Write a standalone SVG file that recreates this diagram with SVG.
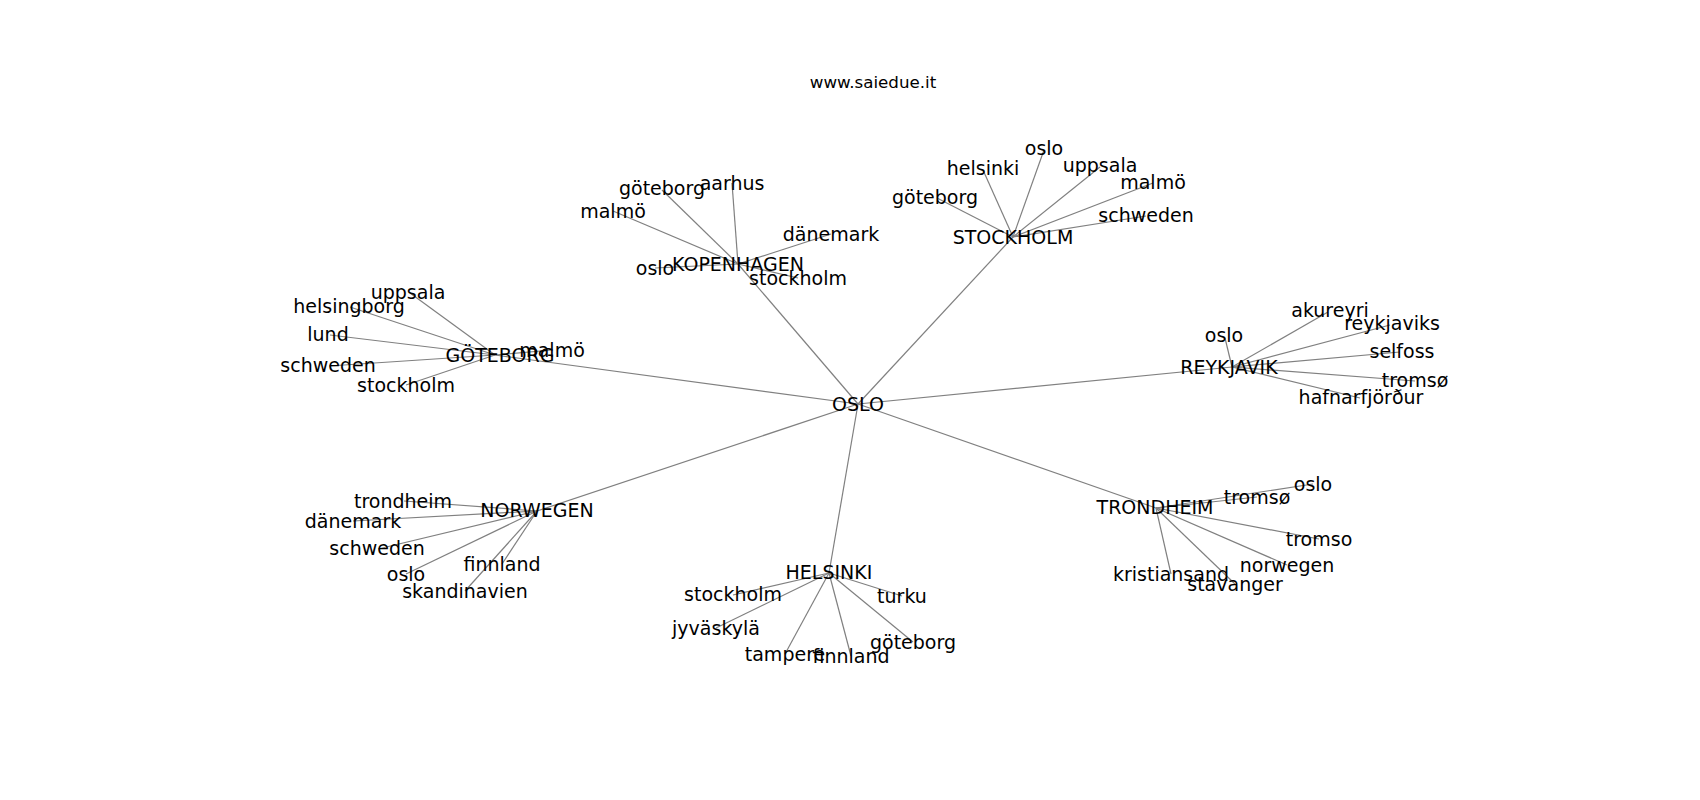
<svg xmlns="http://www.w3.org/2000/svg" width="1700" height="800" viewBox="0 0 1700 800">
<style>
  .e { stroke: #808080; stroke-width: 1.2; fill: none; }
  .n text { font-family: "DejaVu Sans", sans-serif; font-size: 19px; fill: #000; text-anchor: middle; }
  .t { font-family: "DejaVu Sans", sans-serif; font-size: 16.7px; fill: #000; text-anchor: middle; }
</style>
<rect width="1700" height="800" fill="#fff"/>
<text class="t" x="873" y="82" dy="0.35em">www.saiedue.it</text>
<g id="edges">
  <!-- OSLO hubs -->
  <line class="e" x1="858" y1="404" x2="738" y2="264"/>
  <line class="e" x1="858" y1="404" x2="1013" y2="237"/>
  <line class="e" x1="858" y1="404" x2="495" y2="355"/>
  <line class="e" x1="858" y1="404" x2="1232" y2="367"/>
  <line class="e" x1="858" y1="404" x2="537" y2="511"/>
  <line class="e" x1="858" y1="404" x2="829" y2="573"/>
  <line class="e" x1="858" y1="404" x2="1156" y2="508"/>
  <!-- KOPENHAGEN -->
  <line class="e" x1="738" y1="264" x2="662" y2="190"/>
  <line class="e" x1="738" y1="264" x2="732" y2="183"/>
  <line class="e" x1="738" y1="264" x2="613" y2="211"/>
  <line class="e" x1="738" y1="264" x2="831" y2="234"/>
  <line class="e" x1="738" y1="264" x2="655" y2="268"/>
  <line class="e" x1="738" y1="264" x2="798" y2="278"/>
  <!-- STOCKHOLM -->
  <line class="e" x1="1013" y1="237" x2="1044" y2="150"/>
  <line class="e" x1="1013" y1="237" x2="983" y2="170"/>
  <line class="e" x1="1013" y1="237" x2="1100" y2="167"/>
  <line class="e" x1="1013" y1="237" x2="1153" y2="183"/>
  <line class="e" x1="1013" y1="237" x2="937" y2="198"/>
  <line class="e" x1="1013" y1="237" x2="1146" y2="216"/>
  <!-- GÖTEBORG -->
  <line class="e" x1="495" y1="355" x2="410" y2="293"/>
  <line class="e" x1="495" y1="355" x2="350" y2="307"/>
  <line class="e" x1="495" y1="355" x2="330" y2="335"/>
  <line class="e" x1="495" y1="355" x2="329" y2="366"/>
  <line class="e" x1="495" y1="355" x2="406" y2="385"/>
  <line class="e" x1="495" y1="355" x2="552" y2="350"/>
  <!-- REYKJAVIK -->
  <line class="e" x1="1232" y1="367" x2="1328" y2="312"/>
  <line class="e" x1="1232" y1="367" x2="1390" y2="325"/>
  <line class="e" x1="1232" y1="367" x2="1225" y2="338"/>
  <line class="e" x1="1232" y1="367" x2="1400" y2="352"/>
  <line class="e" x1="1232" y1="367" x2="1415" y2="381"/>
  <line class="e" x1="1232" y1="367" x2="1360" y2="398"/>
  <!-- NORWEGEN -->
  <line class="e" x1="537" y1="511" x2="404" y2="501"/>
  <line class="e" x1="537" y1="511" x2="353" y2="521"/>
  <line class="e" x1="537" y1="511" x2="378" y2="549"/>
  <line class="e" x1="537" y1="511" x2="406" y2="574"/>
  <line class="e" x1="537" y1="511" x2="502" y2="564"/>
  <line class="e" x1="537" y1="511" x2="465" y2="591"/>
  <!-- HELSINKI -->
  <line class="e" x1="829" y1="573" x2="733" y2="595"/>
  <line class="e" x1="829" y1="573" x2="902" y2="596"/>
  <line class="e" x1="829" y1="573" x2="716" y2="628"/>
  <line class="e" x1="829" y1="573" x2="785" y2="654"/>
  <line class="e" x1="829" y1="573" x2="851" y2="656"/>
  <line class="e" x1="829" y1="573" x2="913" y2="642"/>
  <!-- TRONDHEIM -->
  <line class="e" x1="1156" y1="508" x2="1257" y2="497"/>
  <line class="e" x1="1156" y1="508" x2="1313" y2="484"/>
  <line class="e" x1="1156" y1="508" x2="1319" y2="539"/>
  <line class="e" x1="1156" y1="508" x2="1287" y2="565"/>
  <line class="e" x1="1156" y1="508" x2="1235" y2="584"/>
  <line class="e" x1="1156" y1="508" x2="1171" y2="574"/>
</g>
<g class="n">
  <g id="oslo_hub"><text x="858" y="404" dy="0.35em">OSLO</text></g>
  <g id="kopenhagen"><text x="738" y="264" dy="0.35em">KOPENHAGEN</text></g>
  <g id="k_goteborg"><text x="662" y="188" dy="0.35em">göteborg</text></g>
  <g id="k_aarhus"><text x="732" y="183" dy="0.35em">aarhus</text></g>
  <g id="k_malmo"><text x="613" y="211" dy="0.35em">malmö</text></g>
  <g id="k_danemark"><text x="831" y="234" dy="0.35em">dänemark</text></g>
  <g id="k_oslo"><text x="655" y="268" dy="0.35em">oslo</text></g>
  <g id="k_stockholm"><text x="798" y="278" dy="0.35em">stockholm</text></g>
  <g id="stockholm"><text x="1013" y="237" dy="0.35em">STOCKHOLM</text></g>
  <g id="s_oslo"><text x="1044" y="148" dy="0.35em">oslo</text></g>
  <g id="s_helsinki"><text x="983" y="168" dy="0.35em">helsinki</text></g>
  <g id="s_uppsala"><text x="1100" y="165" dy="0.35em">uppsala</text></g>
  <g id="s_malmo"><text x="1153" y="182" dy="0.35em">malmö</text></g>
  <g id="s_goteborg"><text x="935" y="197" dy="0.35em">göteborg</text></g>
  <g id="s_schweden"><text x="1146" y="215" dy="0.35em">schweden</text></g>
  <g id="goteborg"><text x="500" y="355" dy="0.35em">GÖTEBORG</text></g>
  <g id="g_uppsala"><text x="408" y="292" dy="0.35em">uppsala</text></g>
  <g id="g_helsingborg"><text x="349" y="306" dy="0.35em">helsingborg</text></g>
  <g id="g_lund"><text x="328" y="334" dy="0.35em">lund</text></g>
  <g id="g_schweden"><text x="328" y="365" dy="0.35em">schweden</text></g>
  <g id="g_stockholm"><text x="406" y="385" dy="0.35em">stockholm</text></g>
  <g id="g_malmo"><text x="552" y="350" dy="0.35em">malmö</text></g>
  <g id="reykjavik"><text x="1229" y="367" dy="0.35em">REYKJAVIK</text></g>
  <g id="r_akureyri"><text x="1330" y="310" dy="0.35em">akureyri</text></g>
  <g id="r_reykjaviks"><text x="1392" y="323" dy="0.35em">reykjaviks</text></g>
  <g id="r_oslo"><text x="1224" y="335" dy="0.35em">oslo</text></g>
  <g id="r_selfoss"><text x="1402" y="351" dy="0.35em">selfoss</text></g>
  <g id="r_tromso"><text x="1415" y="380" dy="0.35em">tromsø</text></g>
  <g id="r_hafnarfjordur"><text x="1361" y="397" dy="0.35em">hafnarfjörður</text></g>
  <g id="norwegen"><text x="537" y="510" dy="0.35em">NORWEGEN</text></g>
  <g id="n_trondheim"><text x="403" y="501" dy="0.35em">trondheim</text></g>
  <g id="n_danemark"><text x="353" y="521" dy="0.35em">dänemark</text></g>
  <g id="n_schweden"><text x="377" y="548" dy="0.35em">schweden</text></g>
  <g id="n_oslo"><text x="406" y="574" dy="0.35em">oslo</text></g>
  <g id="n_finnland"><text x="502" y="564" dy="0.35em">finnland</text></g>
  <g id="n_skandinavien"><text x="465" y="591" dy="0.35em">skandinavien</text></g>
  <g id="helsinki"><text x="829" y="572" dy="0.35em">HELSINKI</text></g>
  <g id="h_stockholm"><text x="733" y="594" dy="0.35em">stockholm</text></g>
  <g id="h_turku"><text x="902" y="596" dy="0.35em">turku</text></g>
  <g id="h_jyvaskyla"><text x="716" y="628" dy="0.35em">jyväskylä</text></g>
  <g id="h_tampere"><text x="785" y="654" dy="0.35em">tampere</text></g>
  <g id="h_finnland"><text x="851" y="656" dy="0.35em">finnland</text></g>
  <g id="h_goteborg"><text x="913" y="642" dy="0.35em">göteborg</text></g>
  <g id="trondheim"><text x="1155" y="507" dy="0.35em">TRONDHEIM</text></g>
  <g id="t_tromso"><text x="1257" y="497" dy="0.35em">tromsø</text></g>
  <g id="t_oslo"><text x="1313" y="484" dy="0.35em">oslo</text></g>
  <g id="t_tromso2"><text x="1319" y="539" dy="0.35em">tromso</text></g>
  <g id="t_norwegen"><text x="1287" y="565" dy="0.35em">norwegen</text></g>
  <g id="t_stavanger"><text x="1235" y="584" dy="0.35em">stavanger</text></g>
  <g id="t_kristiansand"><text x="1171" y="574" dy="0.35em">kristiansand</text></g>
</g>
</svg>
